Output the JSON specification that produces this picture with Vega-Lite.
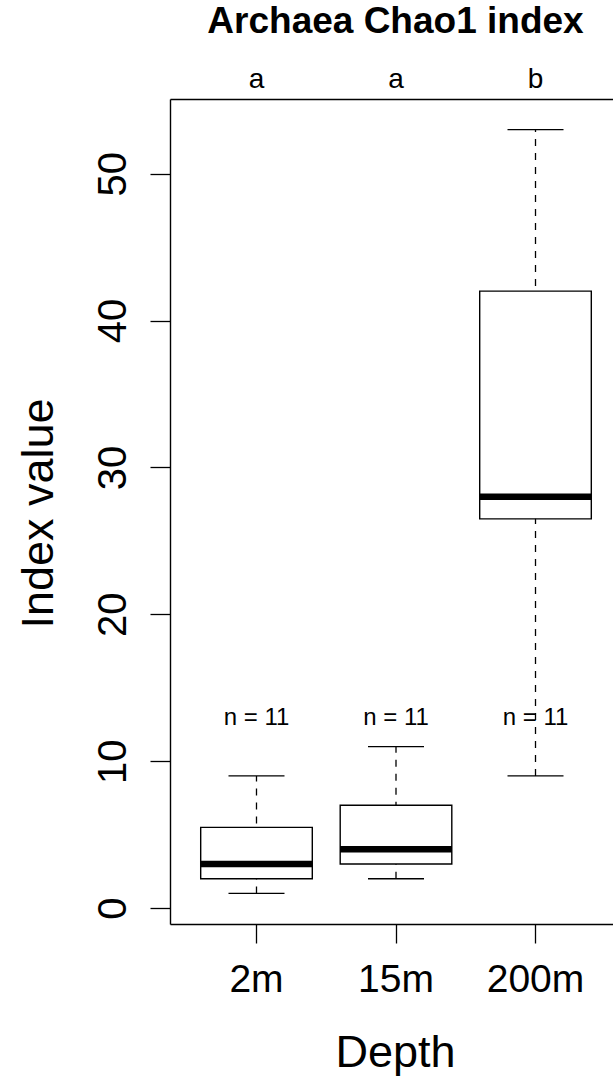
{
  "$schema": "https://vega.github.io/schema/vega-lite/v6.json",
  "autosize": {"type": "none"},
  "padding": {"left": 170, "top": 99, "right": 0, "bottom": 154},
  "width": 443,
  "height": 825,
  "background": "white",
  "config": {
    "font": "Liberation Sans",
    "view": {"stroke": null},
    "axis": {"grid": false, "domain": true, "domainColor": "black", "domainWidth": 1.4, "tickColor": "black", "tickWidth": 1.3, "labelColor": "black", "titleColor": "black", "titleFontWeight": "normal", "labelFlush": false}
  },
  "title": {"text": "Archaea Chao1 index", "fontSize": 37, "fontWeight": "bold", "anchor": "middle", "frame": "group", "baseline": "alphabetic", "offset": -4, "dx": 4, "color": "black"},
  "data": {
    "values": [
      {"depth": "2m", "lower": 1, "q1": 2, "median": 3, "q3": 5.5, "upper": 9, "n_label": "n = 11", "letter": "a"},
      {"depth": "15m", "lower": 2, "q1": 3, "median": 4, "q3": 7, "upper": 11, "n_label": "n = 11", "letter": "a"},
      {"depth": "200m", "lower": 9, "q1": 26.5, "median": 28, "q3": 42, "upper": 53, "n_label": "n = 11", "letter": "b"}
    ]
  },
  "layer": [
    {
      "mark": {"type": "rule", "stroke": "black", "strokeWidth": 1.3, "strokeDash": [7, 7]},
      "encoding": {
        "x": {
          "field": "depth", "type": "nominal", "sort": ["2m", "15m", "200m"],
          "scale": {"type": "band", "paddingInner": 0.2, "paddingOuter": 0.22, "range": [0, 452]},
          "axis": {"orient": "bottom", "title": "Depth", "labelAngle": 0, "labelFontSize": 39, "labelBaseline": "alphabetic", "labelPadding": 48, "tickSize": 19, "titleFontSize": 45, "titleX": 225, "titleY": 142, "titleBaseline": "alphabetic", "titleAlign": "center", "titleAngle": 0}
        },
        "y": {"field": "lower", "type": "quantitative",
          "scale": {"domain": [-1.08, 55.08], "nice": false, "zero": false},
          "axis": {"title": "Index value", "values": [0, 10, 20, 30, 40, 50], "labelAngle": 270, "labelAlign": "center", "labelBaseline": "alphabetic", "labelFontSize": 40, "labelPadding": 25, "tickSize": 20, "titleFontSize": 45, "titleAngle": 270, "titleX": -118, "titleY": 414, "titleAlign": "center", "titleBaseline": "alphabetic"}},
        "y2": {"field": "upper"}
      }
    },
    {
      "mark": {"type": "tick", "color": "black", "opacity": 1, "size": 56, "thickness": 1.3},
      "encoding": {
        "x": {"field": "depth", "type": "nominal", "sort": ["2m", "15m", "200m"],
          "axis": {"orient": "top", "labels": false, "ticks": false, "title": null, "domain": true}},
        "y": {"field": "lower", "type": "quantitative"}
      }
    },
    {
      "mark": {"type": "tick", "color": "black", "opacity": 1, "size": 56, "thickness": 1.3},
      "encoding": {
        "x": {"field": "depth", "type": "nominal", "sort": ["2m", "15m", "200m"], "axis": null},
        "y": {"field": "upper", "type": "quantitative"}
      }
    },
    {
      "mark": {"type": "bar", "fill": "white", "opacity": 1, "stroke": "black", "strokeWidth": 1.4},
      "encoding": {
        "x": {"field": "depth", "type": "nominal", "sort": ["2m", "15m", "200m"], "axis": null},
        "y": {"field": "q1", "type": "quantitative"},
        "y2": {"field": "q3"}
      }
    },
    {
      "mark": {"type": "tick", "color": "black", "opacity": 1, "size": 112, "thickness": 6.5},
      "encoding": {
        "x": {"field": "depth", "type": "nominal", "sort": ["2m", "15m", "200m"], "axis": null},
        "y": {"field": "median", "type": "quantitative"}
      }
    },
    {
      "mark": {"type": "text", "fontSize": 24, "baseline": "alphabetic", "align": "center", "color": "black"},
      "encoding": {
        "x": {"field": "depth", "type": "nominal", "sort": ["2m", "15m", "200m"], "axis": null},
        "y": {"datum": 12.5, "type": "quantitative"},
        "text": {"field": "n_label"}
      }
    },
    {
      "mark": {"type": "text", "fontSize": 28, "baseline": "alphabetic", "align": "center", "color": "black", "clip": false},
      "encoding": {
        "x": {"field": "depth", "type": "nominal", "sort": ["2m", "15m", "200m"], "axis": null},
        "y": {"datum": 55.8, "type": "quantitative"},
        "text": {"field": "letter"}
      }
    }
  ]
}
